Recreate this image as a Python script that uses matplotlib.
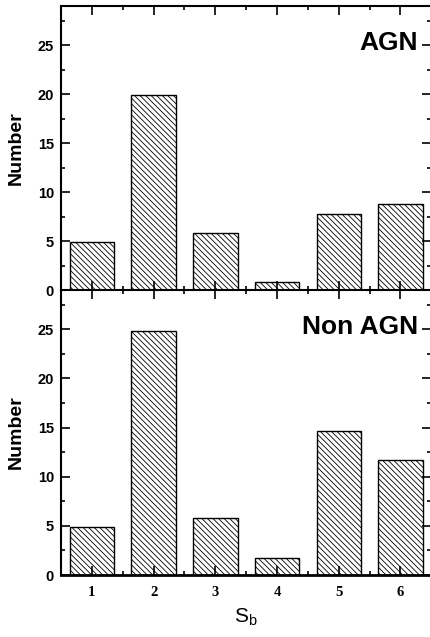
import numpy as np
import matplotlib
matplotlib.use("Agg")
import matplotlib.pyplot as plt
from matplotlib.ticker import MultipleLocator

# S_b classes and the number of galaxies in each
sb_classes = [1, 2, 3, 4, 5, 6]
agn_counts = [4.9, 19.9, 5.8, 0.8, 7.8, 8.8]
non_agn_counts = [4.9, 24.8, 5.8, 1.7, 14.7, 11.7]
panel_names = ["AGN", "Non AGN"]
y_ticks = [0, 5, 10, 15, 20, 25]

plt.rcParams['hatch.linewidth'] = 0.6

fig = plt.figure(figsize=(4.30, 6.37), dpi=100)
left, right = 0.142, 1.003
ax_top = fig.add_axes([left, 0.5447, right - left, 0.9906 - 0.5447])
ax_bot = fig.add_axes([left, 0.0973, right - left, 0.5447 - 0.0973])


def style_axis(ax, show_xlabels):
    ax.set_xlim(0.5, 6.5)
    ax.set_ylim(0, 29)
    ax.set_xticks(sb_classes)
    ax.set_yticks(y_ticks)
    ax.xaxis.set_minor_locator(MultipleLocator(0.5))
    ax.yaxis.set_minor_locator(MultipleLocator(2.5))
    ax.tick_params(which='both', direction='in', top=True, right=True,
                   width=1.2)
    ax.tick_params(which='major', length=6.5)
    ax.tick_params(which='minor', length=3)
    ax.tick_params(axis='x', pad=8)
    ax.tick_params(axis='y', pad=5)
    for sp in ax.spines.values():
        sp.set_linewidth(1.5)
    ax.spines['bottom'].set_linewidth(2)
    for lab in ax.get_yticklabels():
        lab.set_fontfamily('Liberation Sans')
        lab.set_fontweight('bold')
        lab.set_fontsize(10.5)
    if show_xlabels:
        ax.set_xticklabels([str(v) for v in sb_classes],
                           fontfamily='Liberation Serif', fontweight='bold',
                           fontsize=10.5)
    else:
        ax.set_xticklabels([])
    ax.set_ylabel("Number", fontfamily='Liberation Sans', fontweight='bold',
                  fontsize=14, labelpad=9)


for ax, counts, name in [(ax_top, agn_counts, panel_names[0]),
                         (ax_bot, non_agn_counts, panel_names[1])]:
    ax.bar(sb_classes, counts, width=0.72, color='white', edgecolor='black',
           linewidth=1.0, hatch='\\\\\\\\\\\\')
    style_axis(ax, ax is ax_bot)
    ax.text(0.965, 0.87, name, transform=ax.transAxes, ha='right', va='center',
            fontfamily='Liberation Sans', fontweight='bold', fontsize=19)

ax_bot.set_xlabel("S$_\\mathregular{b}$", fontfamily='Liberation Sans',
                  fontsize=15, labelpad=5)

fig.savefig("out.png", dpi=100)
